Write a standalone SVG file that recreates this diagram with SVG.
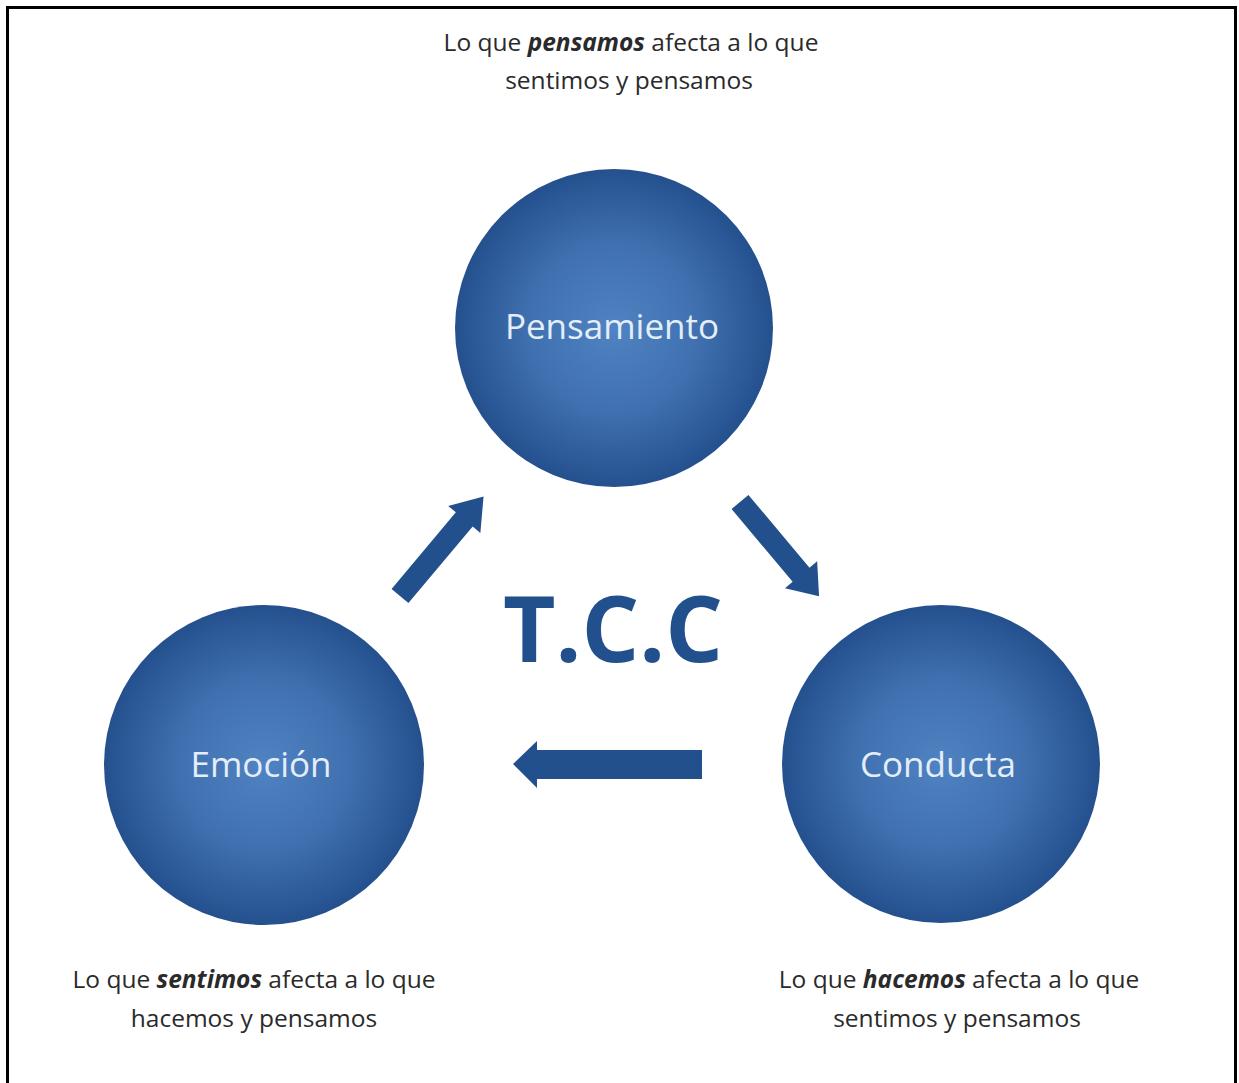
<svg xmlns="http://www.w3.org/2000/svg" width="1239" height="1083" viewBox="0 0 1239 1083">
<defs>
<radialGradient id="g" cx="50%" cy="50%" r="50%">
<stop offset="0" stop-color="#5083c3"/>
<stop offset="0.55" stop-color="#3f6fae"/>
<stop offset="1" stop-color="#24508e"/>
</radialGradient>
<style>
.c{fill:url(#g);}
.n{font-family:"Open Sans","Liberation Sans",sans-serif;font-size:35px;fill:#e4eef9;text-anchor:middle;}
.t{font-family:"Open Sans","Liberation Sans",sans-serif;font-size:24.5px;fill:#2a2a2a;text-anchor:middle;}
.b{font-weight:bold;font-style:italic;}
.a{fill:#21508d;}
</style>
</defs>
<rect width="1239" height="1083" fill="#fff"/>
<path d="M7.5 1083 V7.5 H1235.5 V1083" fill="none" stroke="#000" stroke-width="3"/>
<g id="pensamiento">
<circle class="c" cx="614" cy="328" r="159"/>
<text class="n" x="612" y="339">Pensamiento</text>
</g>
<g id="emocion">
<circle class="c" cx="264" cy="765" r="160"/>
<text class="n" x="261" y="777">Emoción</text>
</g>
<g id="conducta">
<circle class="c" cx="941" cy="764" r="159"/>
<text class="n" x="938" y="777">Conducta</text>
</g>
<g id="connectors">
<g class="a">
<polygon transform="translate(400,596) rotate(-50)" points="0,-11 100,-11 100,-21 130,0 100,21 100,11 0,11"/>
<polygon transform="translate(740,502) rotate(50)" points="0,-11 95,-11 95,-21 123,0 95,21 95,11 0,11"/>
<polygon points="702,750 537,750 537,741 513,764 537,788 537,779 702,779"/>
</g>
</g>
<text x="613" y="662" font-family="Open Sans,Liberation Sans,sans-serif" font-weight="bold" font-size="92" fill="#21508d" text-anchor="middle" textLength="220" lengthAdjust="spacingAndGlyphs">T.C.C</text>
<g id="labels">
<text class="t" x="631" y="51">Lo que <tspan class="b">pensamos</tspan> afecta a lo que</text>
<text class="t" x="629" y="89">sentimos y pensamos</text>
<text class="t" x="254" y="988">Lo que <tspan class="b">sentimos</tspan> afecta a lo que</text>
<text class="t" x="254" y="1027">hacemos y pensamos</text>
<text class="t" x="959" y="988">Lo que <tspan class="b">hacemos</tspan> afecta a lo que</text>
<text class="t" x="957" y="1027">sentimos y pensamos</text>
</g>
</svg>
